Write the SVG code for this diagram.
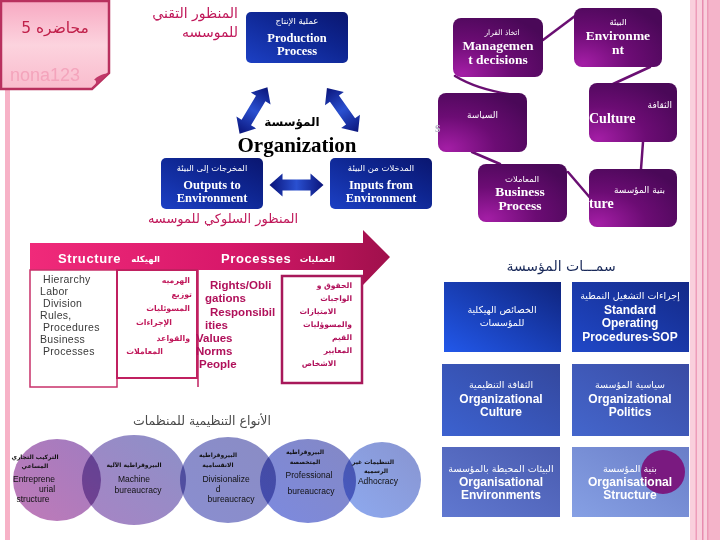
<svg xmlns="http://www.w3.org/2000/svg" width="720" height="540" viewBox="0 0 720 540">
<defs>
<style>
.ar{font-family:"DejaVu Sans","Noto Sans",sans-serif}
.tm{font-family:"Liberation Serif",serif;font-weight:bold}
.ss{font-family:"Liberation Sans",Arial,sans-serif}
.w{fill:#fff}
.mag{fill:#c0185a}
.pbox{fill:url(#gPurple)}
.bbox{fill:url(#gBlue)}
.conn{fill:none;stroke:#6a0f72;stroke-width:2.5;stroke-linecap:round}
.arw{fill:url(#gArrow)}
.circ{mix-blend-mode:multiply}
.ct{font-family:"Liberation Sans",Arial,sans-serif;font-size:8.5px;fill:#111;text-anchor:middle}
.cta{font-family:"DejaVu Sans",sans-serif;font-size:6px;fill:#111;text-anchor:middle;font-weight:bold}
.gt{font-family:"Liberation Sans",Arial,sans-serif;font-weight:bold;font-size:12px;fill:#fff;text-anchor:middle}
.gta{font-family:"DejaVu Sans",sans-serif;font-size:9.5px;fill:#fff;text-anchor:middle}
</style>
<linearGradient id="gCard" x1="0" y1="0" x2="0" y2="1">
<stop offset="0" stop-color="#f7a9c2"/><stop offset="0.5" stop-color="#fcd3de"/><stop offset="1" stop-color="#f9bccd"/>
</linearGradient>
<linearGradient id="gBlue" x1="0" y1="1" x2="1" y2="0">
<stop offset="0" stop-color="#1c40c4"/><stop offset="0.6" stop-color="#0e2590"/><stop offset="1" stop-color="#0a1670"/>
</linearGradient>
<linearGradient id="gArrow" x1="0" y1="0" x2="1" y2="0">
<stop offset="0" stop-color="#0a147a"/><stop offset="0.5" stop-color="#2a50d0"/><stop offset="1" stop-color="#0a147a"/>
</linearGradient>
<radialGradient id="gPurple" cx="0.1" cy="0.95" r="1.1">
<stop offset="0" stop-color="#a41ea6"/><stop offset="0.5" stop-color="#6c0c74"/><stop offset="1" stop-color="#4a0858"/>
</radialGradient>
<linearGradient id="gBanner" x1="0" y1="0" x2="1" y2="0">
<stop offset="0" stop-color="#f02a7a"/><stop offset="0.55" stop-color="#d8186a"/><stop offset="1" stop-color="#a0104c"/>
</linearGradient>
<linearGradient id="gB1" x1="0" y1="1" x2="1" y2="0"><stop offset="0" stop-color="#2258ea"/><stop offset="1" stop-color="#0f247e"/></linearGradient>
<linearGradient id="gB2" x1="0" y1="1" x2="1" y2="0"><stop offset="0" stop-color="#2048c8"/><stop offset="1" stop-color="#142a88"/></linearGradient>
<linearGradient id="gB3" x1="0" y1="1" x2="1" y2="0"><stop offset="0" stop-color="#3c62d0"/><stop offset="1" stop-color="#34489e"/></linearGradient>
<linearGradient id="gB4" x1="0" y1="1" x2="1" y2="0"><stop offset="0" stop-color="#4466cc"/><stop offset="1" stop-color="#3a4ca4"/></linearGradient>
<linearGradient id="gB5" x1="0" y1="1" x2="1" y2="0"><stop offset="0" stop-color="#6078d0"/><stop offset="1" stop-color="#4a5cb0"/></linearGradient>
<linearGradient id="gB6" x1="0" y1="1" x2="1" y2="0"><stop offset="0" stop-color="#86a0e4"/><stop offset="1" stop-color="#6a7ec8"/></linearGradient>
<linearGradient id="gC1" x1="0" y1="1" x2="1" y2="0"><stop offset="0" stop-color="#c07ab8"/><stop offset="1" stop-color="#a07cc0"/></linearGradient>
<linearGradient id="gC2" x1="0" y1="1" x2="1" y2="0"><stop offset="0" stop-color="#a884c4"/><stop offset="1" stop-color="#8c90c8"/></linearGradient>
<linearGradient id="gC3" x1="0" y1="1" x2="1" y2="0"><stop offset="0" stop-color="#8a8ed0"/><stop offset="1" stop-color="#8a8cc4"/></linearGradient>
<linearGradient id="gC4" x1="0" y1="1" x2="1" y2="0"><stop offset="0" stop-color="#7c8ae0"/><stop offset="1" stop-color="#8488c4"/></linearGradient>
<linearGradient id="gC5" x1="0" y1="1" x2="1" y2="0"><stop offset="0" stop-color="#8eaaf0"/><stop offset="1" stop-color="#8894d0"/></linearGradient>
<path id="dbl" d="M-27,0 L-14,-11.5 L-14,-5.5 L14,-5.5 L14,-11.5 L27,0 L14,11.5 L14,5.5 L-14,5.5 L-14,11.5 Z"/>
</defs>

<rect width="720" height="540" fill="#fff"/>

<g id="deco">
<rect x="5" y="88" width="5" height="452" fill="#f7b2c7"/>
<rect x="690" y="0" width="30" height="540" fill="#f9cfdc"/>
<rect x="708" y="0" width="12" height="540" fill="#f5b4ca"/>
<rect x="695.5" y="0" width="1.5" height="540" fill="#ee9cb9"/>
<rect x="702" y="0" width="1.5" height="540" fill="#e88cb0"/>
<rect x="707" y="0" width="1.5" height="540" fill="#ec98b6"/>
</g>

<g id="card">
<path d="M1,1 H109 V73 L92,89 H1 Z" fill="url(#gCard)" stroke="#b8305e" stroke-width="2.5"/>
<path d="M92,89 L109,73 C102,74 96,77 94,80 C96,80 97,82 95,85 Z" fill="#c03868"/>
<text x="55" y="33" class="ar" font-size="15.5" fill="#c0204a" text-anchor="middle" direction="rtl">محاضره 5</text>
<text x="10" y="81" class="ss" font-size="18" fill="#f4a4bc">nona123</text>
</g>

<g id="title-tech">
<text x="238" y="18" class="ar mag" font-size="14" text-anchor="end">المنظور التقني</text>
<text x="238" y="37" class="ar mag" font-size="14" text-anchor="end">للموسسه</text>
</g>

<g id="connectors">
<use href="#dbl" class="arw" transform="translate(253.5,110.5) rotate(-59)"/>
<use href="#dbl" class="arw" transform="translate(342.5,110) rotate(54.8)"/>
<use href="#dbl" class="arw" transform="translate(296.5,185)"/>
<path class="conn" d="M543,40 L575,16"/>
<path class="conn" d="M650,67 L613,84"/>
<path class="conn" d="M455,76 Q478,90 515,95"/>
<path class="conn" d="M472,152 L500,164"/>
<path class="conn" d="M568,172 L592,200"/>
<path class="conn" d="M643,142 L641,169"/>
</g>

<g id="production">
<rect x="246" y="12" width="102" height="51" rx="5" class="bbox"/>
<text x="297" y="24" class="ar w" font-size="8.5" text-anchor="middle">عملية الإنتاج</text>
<text x="297" y="42" class="tm w" font-size="12.5" text-anchor="middle">Production</text>
<text x="297" y="55" class="tm w" font-size="12.5" text-anchor="middle">Process</text>
</g>

<g id="organization">
<text x="292" y="126" class="ar" font-size="12" font-weight="bold" fill="#000" text-anchor="middle">المؤسسة</text>
<text x="297" y="152" class="tm" font-size="21" fill="#000" text-anchor="middle">Organization</text>
</g>

<g id="outputs">
<rect x="161" y="158" width="102" height="51" rx="5" class="bbox"/>
<text x="212" y="171" class="ar w" font-size="8.5" text-anchor="middle">المخرجات إلى البيئة</text>
<text x="212" y="189" class="tm w" font-size="12.5" text-anchor="middle">Outputs to</text>
<text x="212" y="202" class="tm w" font-size="12.5" text-anchor="middle">Environment</text>
</g>

<g id="inputs">
<rect x="330" y="158" width="102" height="51" rx="5" class="bbox"/>
<text x="381" y="171" class="ar w" font-size="8.5" text-anchor="middle">المدخلات من البيئة</text>
<text x="381" y="189" class="tm w" font-size="12.5" text-anchor="middle">Inputs from</text>
<text x="381" y="202" class="tm w" font-size="12.5" text-anchor="middle">Environment</text>
</g>

<g id="title-behav">
<text x="298" y="223" class="ar mag" font-size="13" text-anchor="end">المنظور السلوكي للموسسه</text>
</g>

<g id="management">
<rect x="453" y="18" width="90" height="59" rx="8" class="pbox"/>
<text x="502" y="35" class="ar w" font-size="7.5" text-anchor="middle">اتخاذ القرار</text>
<text x="498" y="50" class="tm w" font-size="13.5" text-anchor="middle">Managemen</text>
<text x="498" y="64" class="tm w" font-size="13.5" text-anchor="middle">t decisions</text>
</g>

<g id="environment">
<rect x="574" y="8" width="88" height="59" rx="8" class="pbox"/>
<text x="618" y="25" class="ar w" font-size="8.5" text-anchor="middle">البيئة</text>
<text x="618" y="40" class="tm w" font-size="13.5" text-anchor="middle">Environme</text>
<text x="618" y="54" class="tm w" font-size="13.5" text-anchor="middle">nt</text>
</g>

<g id="politics">
<rect x="438" y="93" width="89" height="59" rx="8" class="pbox"/>
<text x="498" y="118" class="ar w" font-size="9" text-anchor="end">السياسة</text>
<text x="435" y="132" class="tm" font-size="14" fill="#b8b8c8">s</text>
</g>

<g id="culture">
<rect x="589" y="83" width="88" height="59" rx="8" class="pbox"/>
<text x="672" y="108" class="ar w" font-size="9" text-anchor="end">الثقافة</text>
<text x="589" y="123" class="tm w" font-size="14">Culture</text>
</g>

<g id="business">
<rect x="478" y="164" width="89" height="58" rx="8" class="pbox"/>
<text x="522" y="182" class="ar w" font-size="8.5" text-anchor="middle">المعاملات</text>
<text x="520" y="196" class="tm w" font-size="13.5" text-anchor="middle">Business</text>
<text x="520" y="210" class="tm w" font-size="13.5" text-anchor="middle">Process</text>
</g>

<g id="structure">
<rect x="589" y="169" width="88" height="58" rx="8" class="pbox"/>
<text x="665" y="193" class="ar w" font-size="9" text-anchor="end">بنية المؤسسة</text>
<text x="589" y="208" class="tm w" font-size="14">ture</text>
</g>

<g id="banner">
<path d="M30,243 H363 V230 L390,257 L363,285 V270 H30 Z" fill="url(#gBanner)"/>
<text x="58" y="263" class="ss w" font-size="13" font-weight="bold" letter-spacing="0.6">Structure</text>
<text x="160" y="262" class="ar w" font-size="8.5" font-weight="bold" text-anchor="end">الهيكله</text>
<text x="221" y="263" class="ss w" font-size="13" font-weight="bold" letter-spacing="0.6">Processes</text>
<text x="335" y="262" class="ar w" font-size="8.5" font-weight="bold" text-anchor="end">العمليات</text>
</g>

<g id="box-structure-en">
<rect x="30" y="270" width="87" height="117" fill="#fff" stroke="#c8306a" stroke-width="1.5"/>
<g class="ss" font-size="10.5" fill="#3a3a3a" letter-spacing="0.3">
<text x="43" y="283">Hierarchy</text>
<text x="40" y="295">Labor</text>
<text x="43" y="307">Division</text>
<text x="40" y="319">Rules,</text>
<text x="43" y="331">Procedures</text>
<text x="40" y="343">Business</text>
<text x="43" y="355">Processes</text>
</g>
</g>

<g id="box-structure-ar">
<rect x="117" y="270" width="80" height="108" fill="#fff" stroke="#c02060" stroke-width="2"/>
<g class="ar mag" font-size="7.8" font-weight="bold" text-anchor="end">
<text x="190" y="283">الهرميه</text>
<text x="192" y="297">توزيع</text>
<text x="190" y="311">المسوئليات</text>
<text x="172" y="325">الإجراءات</text>
<text x="190" y="341">والقواعد</text>
<text x="163" y="354">المعاملات</text>
</g>
</g>

<g id="box-process-en">
<line x1="198" y1="270" x2="198" y2="387" stroke="#c02060" stroke-width="1.5"/>
<g class="ss" font-size="11.5" font-weight="bold" fill="#b0105a">
<text x="210" y="289">Rights/Obli</text>
<text x="205" y="302">gations</text>
<text x="210" y="316">Responsibil</text>
<text x="205" y="329">ities</text>
<text x="196" y="342">Values</text>
<text x="196" y="355">Norms</text>
<text x="199" y="368">People</text>
</g>
</g>

<g id="box-process-ar">
<rect x="282" y="276" width="80" height="107" fill="#fff" stroke="#a8185a" stroke-width="2.5"/>
<g class="ar" font-size="7.6" font-weight="bold" fill="#b0105a" text-anchor="end">
<text x="352" y="288">الحقوق و</text>
<text x="352" y="301">الواجبات</text>
<text x="336" y="314">الامتيازات</text>
<text x="352" y="327">والمسوؤليات</text>
<text x="352" y="340">القيم</text>
<text x="352" y="353">المعايير</text>
<text x="336" y="366">الاشخاص</text>
</g>
</g>

<g id="types-title">
<text x="202" y="425" class="ar" font-size="12.5" fill="#4a4a4a" text-anchor="middle">الأنواع التنظيمية للمنظمات</text>
</g>

<g id="type-entrepreneurial">
<ellipse cx="57" cy="480" rx="44" ry="41" fill="url(#gC1)" class="circ"/>
<text x="35" y="459" class="cta">التركيب التجاري</text>
<text x="35" y="468" class="cta">المساعي</text>
<text x="34" y="482" class="ct">Entreprene</text>
<text x="47" y="492" class="ct">urial</text>
<text x="33" y="502" class="ct">structure</text>
</g>

<g id="type-machine">
<ellipse cx="134" cy="480" rx="52" ry="45" fill="url(#gC2)" class="circ"/>
<text x="134" y="467" class="cta">البيروقراطية الآلية</text>
<text x="134" y="482" class="ct">Machine</text>
<text x="138" y="493" class="ct">bureaucracy</text>
</g>

<g id="type-divisional">
<ellipse cx="228" cy="480" rx="48" ry="43" fill="url(#gC3)" class="circ"/>
<text x="218" y="457" class="cta">البيروقراطية</text>
<text x="218" y="467" class="cta">الانقسامية</text>
<text x="226" y="482" class="ct">Divisionalize</text>
<text x="218" y="492" class="ct">d</text>
<text x="231" y="502" class="ct">bureaucracy</text>
</g>

<g id="type-professional">
<ellipse cx="308" cy="481" rx="48" ry="42" fill="url(#gC4)" class="circ"/>
<text x="305" y="454" class="cta">البيروقراطية</text>
<text x="305" y="464" class="cta">المتخصصة</text>
<text x="309" y="478" class="ct">Professional</text>
<text x="311" y="494" class="ct">bureaucracy</text>
</g>

<g id="type-adhocracy">
<ellipse cx="382" cy="480" rx="39" ry="38" fill="url(#gC5)" class="circ"/>
<text x="373" y="464" class="cta">التنظيمات غير</text>
<text x="376" y="473" class="cta">الرسمية</text>
<text x="378" y="484" class="ct">Adhocracy</text>
</g>

<g id="features-title">
<text x="561" y="271" class="ar" font-size="14" fill="#1a2a5a" text-anchor="middle">سمـــات المؤسسة</text>
</g>

<g id="f-structural">
<rect x="444" y="282" width="117" height="70" fill="url(#gB1)"/>
<text x="502" y="313" class="gta">الخصائص الهيكلية</text>
<text x="502" y="326" class="gta">للمؤسسات</text>
</g>

<g id="f-sop">
<rect x="572" y="282" width="117" height="70" fill="url(#gB2)"/>
<text x="630" y="299" class="gta">إجراءات التشغيل النمطية</text>
<text x="630" y="314" class="gt">Standard</text>
<text x="630" y="327" class="gt">Operating</text>
<text x="630" y="341" class="gt">Procedures-SOP</text>
</g>

<g id="f-culture">
<rect x="442" y="364" width="118" height="72" fill="url(#gB3)"/>
<text x="501" y="388" class="gta">الثقافة التنظيمية</text>
<text x="501" y="403" class="gt">Organizational</text>
<text x="501" y="416" class="gt">Culture</text>
</g>

<g id="f-politics">
<rect x="572" y="364" width="117" height="72" fill="url(#gB4)"/>
<text x="630" y="388" class="gta">سياسية المؤسسة</text>
<text x="630" y="403" class="gt">Organizational</text>
<text x="630" y="416" class="gt">Politics</text>
</g>

<g id="f-environments">
<rect x="442" y="447" width="118" height="70" fill="url(#gB5)"/>
<text x="501" y="472" class="gta">البيئات المحيطة بالمؤسسة</text>
<text x="501" y="486" class="gt">Organisational</text>
<text x="501" y="499" class="gt">Environments</text>
</g>

<g id="f-structure">
<rect x="572" y="447" width="117" height="70" fill="url(#gB6)"/>
<circle cx="663" cy="472" r="22" fill="#7a1a80"/>
<text x="630" y="472" class="gta">بنية المؤسسة</text>
<text x="630" y="486" class="gt">Organisational</text>
<text x="630" y="499" class="gt">Structure</text>
</g>
</svg>
